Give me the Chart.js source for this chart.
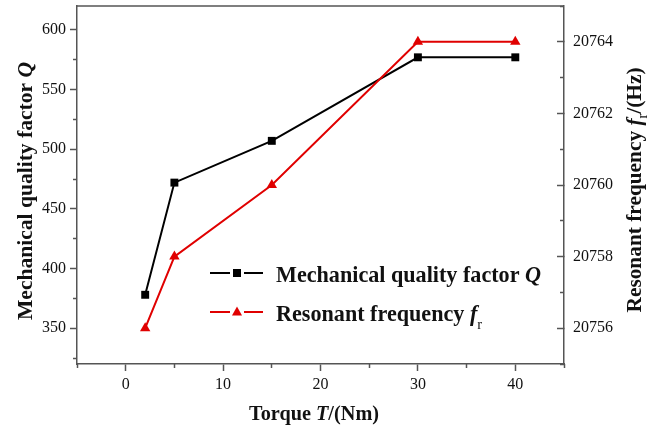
<!DOCTYPE html>
<html>
<head>
<meta charset="utf-8">
<script src="https://cdn.jsdelivr.net/npm/chart.js@4/dist/chart.umd.min.js"></script>
<style>
  html, body { margin: 0; padding: 0; background: #fff; }
  #wrap { width: 670px; height: 431px; }
</style>
</head>
<body>
<div id="wrap"><canvas id="c" width="670" height="431"></canvas></div>
<script>
// ---- data ----
const torque = [2, 5, 15, 30, 40];
const qualityFactor = [378, 472, 507, 577, 577];
const resonantFreq = [20756, 20758, 20760, 20764, 20764];

// ---- tick values ----
const xMajorTicks = [0, 10, 20, 30, 40];
const xMinorTicks = [-5, 5, 15, 25, 35, 45];
const qMajorTicks = [350, 400, 450, 500, 550, 600];
const qMinorTicks = [325, 375, 425, 475, 525, 575];
const fMajorTicks = [20756, 20758, 20760, 20762, 20764];
const fMinorTicks = [20755, 20757, 20759, 20761, 20763, 20765];

const AXIS = '#555';
const TXT = '#111';
const SERIF = '"Liberation Serif", "Times New Roman", serif';
const tickFont = { family: SERIF, size: 16 };

function setTicks(arr) { return s => { s.ticks = arr.map(v => ({ value: v })); }; }
function fixSize(prop, val) {
  return s => {
    s[prop] = val;
    s.paddingTop = 0; s.paddingBottom = 0; s.paddingLeft = 0; s.paddingRight = 0;
  };
}

function majorScale(extra) {
  return Object.assign({
    type: 'linear',
    weight: 1,
    ticks: { font: tickFont, color: TXT, padding: 4, callback: v => String(v) },
    grid: { drawOnChartArea: false, tickLength: 7, tickColor: AXIS, tickWidth: 1.5 },
    border: { color: AXIS, width: 1.5 }
  }, extra);
}
function minorScale(extra) {
  return Object.assign({
    type: 'linear',
    weight: 0,
    ticks: { display: false },
    grid: { drawOnChartArea: false, tickLength: 4, tickColor: AXIS, tickWidth: 1.5 },
    border: { display: false }
  }, extra);
}

function drawRich(ctx, segs, x, y, rot, targetW) {
  ctx.save();
  ctx.translate(x, y);
  ctx.rotate(rot);
  let w = 0;
  segs.forEach(s => { ctx.font = s.font; s.w = ctx.measureText(s.text).width; w += s.w; });
  const sx = targetW ? targetW / w : 1;
  ctx.scale(sx, 1);
  let cx = -w / 2;
  ctx.textBaseline = 'alphabetic';
  ctx.textAlign = 'left';
  ctx.fillStyle = TXT;
  segs.forEach(s => { ctx.font = s.font; ctx.fillText(s.text, cx, s.dy || 0); cx += s.w; });
  ctx.restore();
}

const B = (px) => 'bold ' + px + 'px ' + SERIF;
const BI = (px) => 'italic bold ' + px + 'px ' + SERIF;
const N = (px) => px + 'px ' + SERIF;

const decorPlugin = {
  id: 'decor',
  afterDraw(chart) {
    const ctx = chart.ctx;
    const a = chart.chartArea;
    // top frame line
    ctx.save();
    ctx.strokeStyle = AXIS;
    ctx.lineWidth = 1.5;
    ctx.beginPath();
    ctx.moveTo(a.left, a.top);
    ctx.lineTo(a.right, a.top);
    ctx.stroke();
    ctx.restore();

    // axis titles
    drawRich(ctx, [
      { text: 'Mechanical quality factor ', font: B(21) },
      { text: 'Q', font: BI(21) }
    ], 32, 191, -Math.PI / 2, 258);

    drawRich(ctx, [
      { text: 'Resonant frequency ', font: B(21) },
      { text: 'f', font: BI(21) },
      { text: 'r', font: N(14), dy: 6 },
      { text: '/(Hz)', font: B(21) }
    ], 641, 190, -Math.PI / 2, 245);

    drawRich(ctx, [
      { text: 'Torque ', font: B(21) },
      { text: 'T', font: BI(21) },
      { text: '/(Nm)', font: B(21) }
    ], 314, 420, 0, 130);

    // legend
    const items = [
      { color: '#000', style: 'rect', y: 273, segs: [
        { text: 'Mechanical quality factor ', font: B(23) },
        { text: 'Q', font: BI(23) }] },
      { color: '#e00000', style: 'tri', y: 312, segs: [
        { text: 'Resonant frequency ', font: B(23) },
        { text: 'f', font: BI(23) },
        { text: 'r', font: N(15), dy: 8 }] }
    ];
    let w0 = 0;
    items[0].segs.forEach(s => { ctx.font = s.font; w0 += ctx.measureText(s.text).width; });
    const sx = 265 / w0;
    items.forEach((it) => {
      ctx.save();
      ctx.strokeStyle = it.color;
      ctx.fillStyle = it.color;
      ctx.lineWidth = 2.2;
      ctx.beginPath();
      ctx.moveTo(210, it.y); ctx.lineTo(230, it.y);
      ctx.moveTo(244, it.y); ctx.lineTo(263, it.y);
      ctx.stroke();
      ctx.beginPath();
      if (it.style === 'rect') {
        ctx.rect(233, it.y - 4, 8, 8);
      } else {
        ctx.moveTo(237, it.y - 5.5);
        ctx.lineTo(242, it.y + 3.5);
        ctx.lineTo(232, it.y + 3.5);
        ctx.closePath();
      }
      ctx.fill();
      ctx.restore();
      let w = 0;
      it.segs.forEach(s => { ctx.font = s.font; w += ctx.measureText(s.text).width; });
      drawRich(ctx, it.segs, 276 + (w * sx) / 2, it.y + 8.5, 0, w * sx);
    });
  }
};

new Chart(document.getElementById('c'), {
  type: 'line',
  data: {
    datasets: [
      {
        label: 'Resonant frequency',
        data: torque.map((t, i) => ({ x: t, y: resonantFreq[i] })),
        yAxisID: 'yF',
        xAxisID: 'x',
        borderColor: '#e00000',
        backgroundColor: '#e00000',
        borderWidth: 2,
        pointStyle: 'triangle',
        pointRadius: 6,
        pointBorderWidth: 0,
        tension: 0,
        order: 0
      },
      {
        label: 'Mechanical quality factor',
        data: torque.map((t, i) => ({ x: t, y: qualityFactor[i] })),
        yAxisID: 'yQ',
        xAxisID: 'x',
        borderColor: '#000',
        backgroundColor: '#000',
        borderWidth: 2,
        pointStyle: 'rect',
        pointRadius: 5.6,
        pointBorderWidth: 0,
        tension: 0,
        order: 1
      }
    ]
  },
  options: {
    responsive: false,
    devicePixelRatio: 1,
    animation: false,
    layout: { padding: { top: 6, left: 0, right: 0, bottom: 0 } },
    plugins: { legend: { display: false }, tooltip: { enabled: false } },
    scales: {
      x: majorScale({
        position: 'bottom', min: -5, max: 45,
        afterBuildTicks: setTicks(xMajorTicks),
        afterFit: fixSize('height', 67)
      }),
      xm: minorScale({
        position: 'bottom', min: -5, max: 45,
        afterBuildTicks: setTicks(xMinorTicks),
        afterFit: fixSize('height', 0)
      }),
      yQ: majorScale({
        position: 'left', min: 320, max: 620,
        afterBuildTicks: setTicks(qMajorTicks),
        afterFit: fixSize('width', 77)
      }),
      yQm: minorScale({
        position: 'left', min: 320, max: 620,
        afterBuildTicks: setTicks(qMinorTicks),
        afterFit: fixSize('width', 0)
      }),
      yF: majorScale({
        position: 'right', min: 20755, max: 20765,
        afterBuildTicks: setTicks(fMajorTicks),
        ticks: { font: tickFont, color: TXT, padding: 16, callback: v => String(v) },
        grid: { drawOnChartArea: false, tickLength: -7, tickColor: AXIS, tickWidth: 1.5 },
        afterFit: fixSize('width', 106)
      }),
      yFm: minorScale({
        position: 'right', min: 20755, max: 20765,
        afterBuildTicks: setTicks(fMinorTicks),
        grid: { drawOnChartArea: false, tickLength: -4, tickColor: AXIS, tickWidth: 1.5 },
        afterFit: fixSize('width', 0)
      })
    }
  },
  plugins: [decorPlugin]
});
</script>
</body>
</html>
